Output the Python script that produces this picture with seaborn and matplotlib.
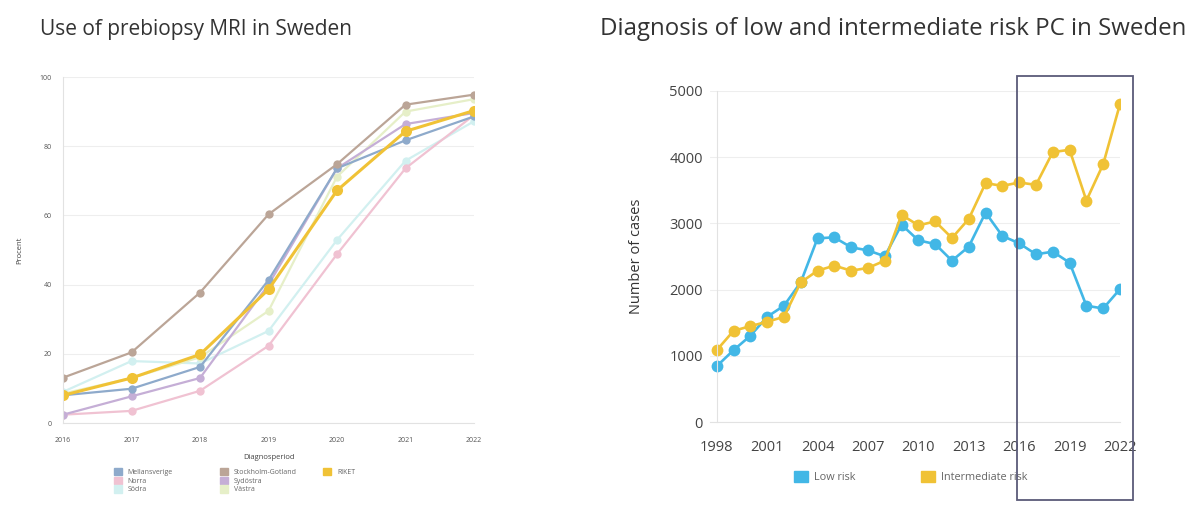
import numpy as np
import pandas as pd
import matplotlib
matplotlib.use("Agg")
import matplotlib.pyplot as plt
import matplotlib.patches as mpatches
import seaborn as sns

# Data - left chart (percent of prebiopsy MRI by region)
mri_years = [2016, 2017, 2018, 2019, 2020, 2021, 2022]
mellansverige = [8.0, 9.9, 16.2, 41.3, 73.6, 81.7, 88.6]
stockholm_gotland = [13.1, 20.4, 37.7, 60.3, 74.8, 92.0, 94.9]
riket = [8.0, 13.0, 19.8, 38.6, 67.2, 84.3, 90.3]
norra = [2.4, 3.5, 9.3, 22.3, 48.8, 73.6, 89.0]
sydostra = [2.4, 7.7, 13.0, 40.0, 73.6, 86.4, 89.6]
sodra = [9.0, 17.9, 17.2, 26.6, 52.9, 75.8, 87.2]
vastra = [8.5, 13.0, 19.0, 32.4, 71.2, 90.0, 93.6]

regions = ["Mellansverige", "Norra", "Södra", "Stockholm-Gotland",
           "Sydöstra", "Västra", "RIKET"]
region_values = [mellansverige, norra, sodra, stockholm_gotland,
                 sydostra, vastra, riket]
region_colors = ["#8eaacb", "#f0c2d2", "#d2f0f0", "#bba597",
                 "#c5aed6", "#e6efc8", "#f0c236"]

# Data - right chart (number of cases)
case_years = list(range(1998, 2023))
low_risk = [843, 1085, 1302, 1589, 1756, 2110, 2775, 2789, 2638, 2593, 2503,
            2980, 2744, 2688, 2437, 2649, 3163, 2810, 2699, 2533, 2573, 2407,
            1756, 1715, 2008]
intermediate_risk = [1085, 1377, 1448, 1514, 1589, 2109, 2286, 2362, 2286,
                     2327, 2437, 3131, 2970, 3030, 2779, 3068, 3608, 3567,
                     3618, 3582, 4077, 4112, 3345, 3895, 4803]
case_ticks = [1998, 2001, 2004, 2007, 2010, 2013, 2016, 2019, 2022]

sns.set_style("white")
plt.rcParams['font.family'] = ['Open Sans', 'DejaVu Sans']

fig = plt.figure(figsize=(12, 5.25), dpi=100)

# ---- Left chart
df_mri = pd.DataFrame({
    'Year': mri_years * len(regions),
    'Percent': [v for vals in region_values for v in vals],
    'Region': [r for r in regions for _ in mri_years],
})
ax1 = fig.add_axes([63 / 1200, 1 - 423 / 525, 411 / 1200, 346 / 525])
pal = dict(zip(regions, region_colors))
draw_order = ["Södra", "Västra", "Norra", "Sydöstra", "Mellansverige",
              "Stockholm-Gotland", "RIKET"]
for r in draw_order:
    sub = df_mri[df_mri['Region'] == r]
    big = r == "RIKET"
    sns.lineplot(data=sub, x='Year', y='Percent', color=pal[r], ax=ax1,
                 marker='o', markersize=8 if big else 6,
                 linewidth=2.2 if big else 1.6,
                 markeredgewidth=0, legend=False)
ax1.set_xlim(2016, 2022)
ax1.set_ylim(0, 100)
ax1.set_yticks([0, 20, 40, 60, 80, 100])
ax1.set_xticks(mri_years)
ax1.tick_params(axis='x', labelsize=5, colors='#555555', length=0, pad=10)
ax1.tick_params(axis='y', labelsize=5, colors='#555555', length=0, pad=8)
ax1.grid(axis='y', color='#eeeeee', linewidth=0.8)
for s in ['top', 'right']:
    ax1.spines[s].set_visible(False)
for s in ['left', 'bottom']:
    ax1.spines[s].set_color('#e2e2e2')
ax1.set_xlabel('Diagnosperiod', fontsize=5.5, color='#444444', labelpad=7)
ax1.set_ylabel('Procent', fontsize=5.5, color='#444444', labelpad=12)

# legend in three columns (3, 3, 1)
legend_cols = [["Mellansverige", "Norra", "Södra"],
               ["Stockholm-Gotland", "Sydöstra", "Västra"],
               ["RIKET"]]
col_x = [0.124, 0.382, 0.633]
for names, x in zip(legend_cols, col_x):
    hs = [mpatches.Patch(color=pal[n], label=n) for n in names]
    leg = ax1.legend(handles=hs, loc='upper left', bbox_to_anchor=(x, -0.13),
                     frameon=False, fontsize=5, handlelength=1.2,
                     handleheight=1.2, labelspacing=0.12, borderpad=0,
                     borderaxespad=0, handletextpad=0.8,
                     labelcolor='#666666')
    ax1.add_artist(leg)
ax1.legend_ = None

fig.text(40 / 1200, 1 - 29 / 525, 'Use of prebiopsy MRI in Sweden',
         fontsize=15, color='#333333', va='center', ha='left')

# ---- Right chart
df_cases = pd.DataFrame({
    'Year': case_years * 2,
    'Cases': low_risk + intermediate_risk,
    'Risk': ['Low risk'] * len(case_years) + ['Intermediate risk'] * len(case_years),
})
ax2 = fig.add_axes([710 / 1200, 1 - 422 / 525, 410 / 1200, 331 / 525])
risk_pal = {'Low risk': '#42b7e6', 'Intermediate risk': '#f0c235'}
sns.lineplot(data=df_cases, x='Year', y='Cases', hue='Risk',
             palette=risk_pal, marker='o', markersize=8.5, linewidth=1.9,
             markeredgewidth=0, legend=False, ax=ax2)
ax2.set_xlim(1997.6, 2022)
ax2.set_ylim(0, 5000)
ax2.set_yticks([0, 1000, 2000, 3000, 4000, 5000])
ax2.set_xticks(case_ticks)
ax2.set_xticks(case_years, minor=True)
ax2.tick_params(axis='x', which='both', length=5, color='#dddddd',
                labelsize=10.5, labelcolor='#444444', pad=8)
ax2.tick_params(axis='y', length=0, labelsize=10.5, labelcolor='#444444',
                pad=10)
ax2.grid(axis='y', color='#eeeeee', linewidth=0.8)
for s in ['top', 'right']:
    ax2.spines[s].set_visible(False)
for s in ['left', 'bottom']:
    ax2.spines[s].set_color('#e2e2e2')
ax2.spines['left'].set_position(('data', 1998))
ax2.set_xlabel('')
ax2.set_ylabel('Number of cases', fontsize=10.5, color='#333333', labelpad=18)

for name, x in zip(['Low risk', 'Intermediate risk'], [0.205, 0.515]):
    leg = ax2.legend(handles=[mpatches.Patch(color=risk_pal[name], label=name)],
                     loc='upper left', bbox_to_anchor=(x, -0.148),
                     frameon=False, fontsize=7.8, handlelength=1.25,
                     handleheight=1.25, borderpad=0, borderaxespad=0,
                     handletextpad=0.6, labelcolor='#666666')
    ax2.add_artist(leg)
ax2.legend_ = None

fig.text(600 / 1200, 1 - 29 / 525,
         'Diagnosis of low and intermediate risk PC in Sweden',
         fontsize=17.3, color='#333333', va='center', ha='left')

# highlight box around recent years
rect = mpatches.Rectangle((1017 / 1200, 1 - 500 / 525), 116 / 1200, 424 / 525,
                          transform=fig.transFigure, fill=False,
                          edgecolor='#5a5a78', linewidth=1.3)
fig.patches.append(rect)

fig.savefig('out.png', dpi=100, facecolor='white')
